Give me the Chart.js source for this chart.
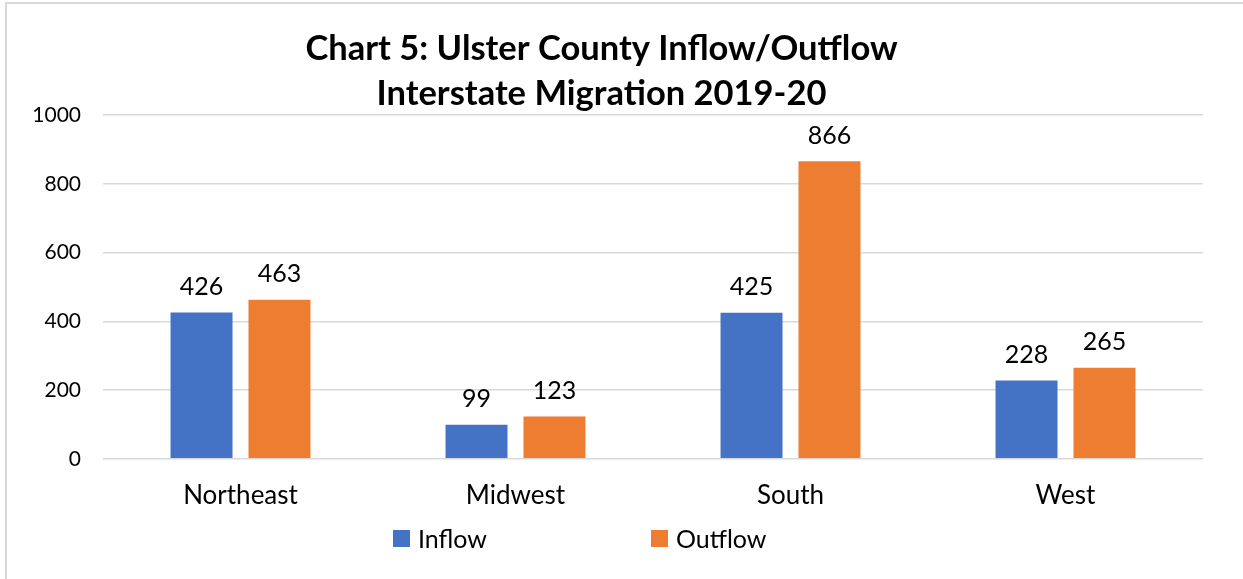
<!DOCTYPE html>
<html>
<head>
<meta charset="utf-8">
<script src="https://cdn.jsdelivr.net/npm/chart.js@4"></script>
<style>
    html, body { margin: 0; padding: 0; background: #fff; }
    body { width: 1243px; height: 579px; overflow: hidden; position: relative; font-family: Lato, sans-serif; }
    #frame { position: absolute; left: 5px; top: 2px; width: 1260px; height: 600px; border: 2px solid #d9d9d9; box-sizing: border-box; }
    #wrap { position: absolute; left: 0; top: 0; width: 1243px; height: 579px; }
    #legend { position: absolute; left: 393px; top: 523px; display: flex; align-items: center; font-size: 25px; color: #000; }
    .legend-item { display: flex; align-items: center; }
    .legend-item + .legend-item { margin-left: 164px; }
    .legend-box { width: 17px; height: 17px; margin-right: 8px; }
</style>
</head>
<body>
<div id="frame"></div>
<div id="wrap"><canvas id="chart" width="1243" height="579"></canvas></div>
<div id="legend"></div>

<script>
// Chart data
const regions = ['Northeast', 'Midwest', 'South', 'West'];
const inflow = [426, 99, 425, 228];
const outflow = [463, 123, 866, 265];
const seriesNames = ['Inflow', 'Outflow'];
const seriesColors = ['#4472C4', '#ED7D31'];
const yTicks = [0, 200, 400, 600, 800, 1000];

const FONT = 'Lato, "Open Sans", sans-serif';

// Draw the value above each bar
const barValueLabels = {
    id: 'barValueLabels',
    afterDatasetsDraw(chart) {
        const ctx = chart.ctx;
        ctx.save();
        ctx.font = '25px ' + FONT;
        ctx.fillStyle = '#000';
        ctx.textAlign = 'center';
        ctx.textBaseline = 'bottom';
        chart.data.datasets.forEach((ds, i) => {
            chart.getDatasetMeta(i).data.forEach((bar, j) => {
                ctx.fillText(String(ds.data[j]), bar.x, bar.y - 13);
            });
        });
        ctx.restore();
    }
};

const chart = new Chart(document.getElementById('chart'), {
    type: 'bar',
    data: {
        labels: regions,
        datasets: [
            { label: seriesNames[0], data: inflow, backgroundColor: seriesColors[0] },
            { label: seriesNames[1], data: outflow, backgroundColor: seriesColors[1] }
        ]
    },
    options: {
        responsive: false,
        animation: false,
        categoryPercentage: 0.567,
        barPercentage: 0.795,
        layout: { padding: { left: 0, right: 40, top: 0, bottom: 55 } },
        plugins: {
            legend: { display: false },
            tooltip: { enabled: false },
            title: {
                display: true,
                text: ['Chart 5: Ulster County Inflow/Outflow', 'Interstate Migration 2019-20'],
                color: '#000',
                font: { family: FONT, size: 34.5, weight: 'bold', lineHeight: 1.32 },
                padding: { top: 26, bottom: -2 }
            }
        },
        scales: {
            x: {
                grid: { display: false },
                border: { display: false },
                ticks: { color: '#000', font: { family: FONT, size: 26 }, padding: 13 }
            },
            y: {
                min: 0,
                max: 1000,
                afterBuildTicks(scale) {
                    scale.ticks = yTicks.map(v => ({ value: v }));
                },
                afterFit(scale) {
                    scale.width = 103;
                },
                grid: { color: '#d9d9d9', lineWidth: 1.5, drawTicks: false },
                border: { display: false },
                ticks: {
                    color: '#000',
                    font: { family: FONT, size: 21 },
                    padding: 22,
                    callback: v => String(v)
                }
            }
        }
    },
    plugins: [barValueLabels]
});

// Build legend from the series arrays
const legendEl = document.getElementById('legend');
seriesNames.forEach((name, i) => {
    const item = document.createElement('div');
    item.className = 'legend-item';
    item.innerHTML = `<div class="legend-box" style="background:${seriesColors[i]}"></div><span>${name}</span>`;
    legendEl.appendChild(item);
});
</script>
</body>
</html>
